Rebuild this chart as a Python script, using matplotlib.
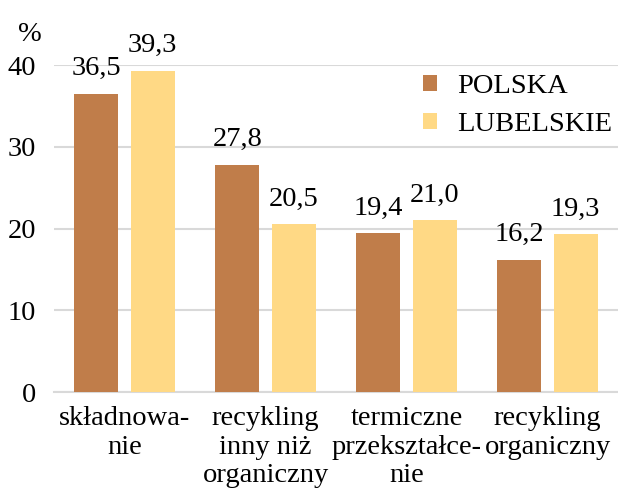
import numpy as np
import matplotlib
matplotlib.use('Agg')
import matplotlib.pyplot as plt

# === dane ===
kategorie = ['składnowa-\nnie', 'recykling\ninny niż\norganiczny',
             'termiczne\nprzekształce-\nnie', 'recykling\norganiczny']
polska = [36.5, 27.8, 19.4, 16.2]
lubelskie = [39.3, 20.5, 21.0, 19.3]
serie = ['POLSKA', 'LUBELSKIE']
kolory = ['#C07D4A', '#FFD985']

plt.rcParams['font.family'] = ['Liberation Serif', 'DejaVu Serif']
fs = 20.5

fig = plt.figure(figsize=(6.18, 4.90), dpi=100)
ax = fig.add_axes([0.0874, 0.20, 0.9126, 0.667])

x = np.arange(len(kategorie))
w = 0.31
b1 = ax.bar(x - 0.2, polska, w, color=kolory[0], label=serie[0], zorder=3)
b2 = ax.bar(x + 0.2, lubelskie, w, color=kolory[1], label=serie[1], zorder=3)

for bars, vals in [(b1, polska), (b2, lubelskie)]:
    for rect, v in zip(bars, vals):
        ax.annotate(f'{v:.1f}'.replace('.', ','),
                    (rect.get_x() + rect.get_width() / 2, v),
                    xytext=(0, 9), textcoords='offset points',
                    ha='center', va='bottom', fontsize=fs, clip_on=False)

ax.set_xlim(-0.5, 3.5)
ax.set_ylim(0, 40)
ax.set_yticks([0, 10, 20, 30, 40])
ax.set_xticks(x)
ax.set_xticklabels(kategorie, fontsize=fs, linespacing=1.2)
ax.tick_params(axis='y', labelsize=fs, length=0, pad=13)
ax.tick_params(axis='x', length=0, pad=10)
ax.grid(axis='y', color='#D9D9D9', linewidth=1.5, zorder=0)
for s in ['top', 'right', 'left']:
    ax.spines[s].set_visible(False)
ax.spines['bottom'].set_color('#D9D9D9')
ax.spines['bottom'].set_linewidth(1.5)

fig.text(0.048, 0.93, '%', fontsize=fs, ha='center', va='center')

ax.legend(loc='upper right', bbox_to_anchor=(1.035, 1.05), frameon=False,
          fontsize=fs, handlelength=0.5, handleheight=0.5, handletextpad=0.7,
          labelspacing=0.45)

plt.savefig('out.png', dpi=100)
